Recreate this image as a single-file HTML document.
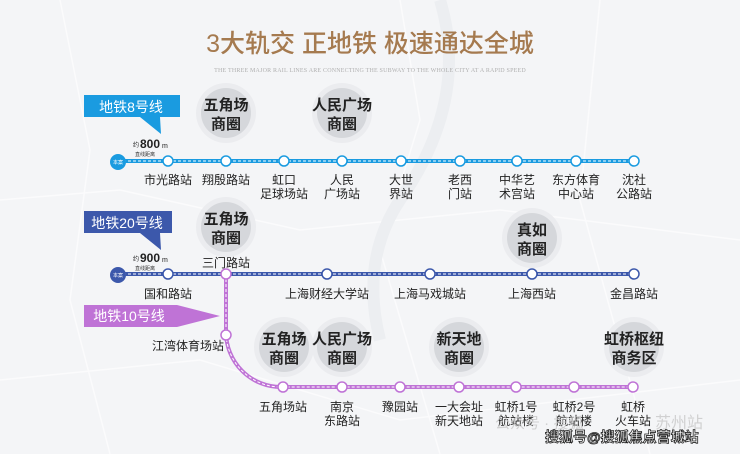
<!DOCTYPE html>
<html><head><meta charset="utf-8"><style>
html,body{margin:0;padding:0;background:#f4f5f7;}
svg{display:block;font-family:"Liberation Sans","Noto Sans CJK SC",sans-serif;}
</style></head><body>
<svg width="740" height="454" viewBox="0 0 740 454" xmlns="http://www.w3.org/2000/svg">
<defs>
<g id="bub"><circle r="30" fill="#ebecef"/><circle r="25" fill="#d5d7db"/></g>
</defs>
<rect width="740" height="454" fill="#f4f5f7"/>
<g stroke="#fbfbfc" stroke-width="1.5" fill="none">
<path d="M0 200 L120 190 L300 230 L500 210 L740 240"/>
<path d="M60 0 L90 150 L70 300 L110 454"/>
<path d="M400 0 L420 120 L380 250 L440 454"/>
<path d="M600 0 L580 200 L650 454"/>
<path d="M0 380 L200 360 L400 420 L740 380"/>
</g>
<path d="M440 0 Q470 100 400 200 Q360 260 380 340" stroke="#eceef1" stroke-width="12" fill="none"/>

<text x="370" y="52" text-anchor="middle" font-size="25" fill="#a57a4f" font-weight="500">3大轨交 正地铁 极速通达全城</text>
<text x="370" y="72" text-anchor="middle" font-size="6" fill="#b0b0b0" font-family="Liberation Serif,serif" letter-spacing="0.2">THE THREE MAJOR RAIL LINES ARE CONNECTING THE SUBWAY TO THE WHOLE CITY AT A RAPID SPEED</text>

<g font-size="15" font-weight="bold" fill="#222" text-anchor="middle">
<use href="#bub" x="226" y="113"/><text x="226" y="110">五角场</text><text x="226" y="129">商圈</text>
<use href="#bub" x="342" y="113"/><text x="342" y="110">人民广场</text><text x="342" y="129">商圈</text>
<use href="#bub" x="226" y="227"/><text x="226" y="224">五角场</text><text x="226" y="243">商圈</text>
<use href="#bub" x="532" y="238"/><text x="532" y="235">真如</text><text x="532" y="254">商圈</text>
<use href="#bub" x="284" y="347"/><text x="284" y="344">五角场</text><text x="284" y="363">商圈</text>
<use href="#bub" x="342" y="347"/><text x="342" y="344">人民广场</text><text x="342" y="363">商圈</text>
<use href="#bub" x="459" y="347"/><text x="459" y="344">新天地</text><text x="459" y="363">商圈</text>
<use href="#bub" x="634" y="347"/><text x="634" y="344">虹桥枢纽</text><text x="634" y="363">商务区</text>
</g>

<path d="M84 95 H180 V117 H160 L161 134 L140 117 H84 Z" fill="#1a9be0"/>
<text x="131" y="112" text-anchor="middle" font-size="14" fill="#fff">地铁8号线</text>
<text x="133" y="147" font-size="6" fill="#222">约</text><text x="140" y="148" font-size="12" font-weight="bold" fill="#222">800</text><text x="162" y="148" font-size="7" fill="#222">m</text>
<text x="135" y="156" font-size="5" fill="#333">直线距离</text>
<line x1="118" y1="161" x2="634" y2="161" stroke="#1a9be0" stroke-width="4"/>
<line x1="118" y1="161" x2="634" y2="161" stroke="#fff" stroke-width="1" stroke-dasharray="3 2"/>
<circle cx="118" cy="162" r="8" fill="#1a9be0"/><text x="118" y="164" font-size="5" fill="#fff" text-anchor="middle">本案</text>
<g fill="#fff" stroke="#1a9be0" stroke-width="1.5">
<circle cx="168" cy="161" r="5"/><circle cx="226" cy="161" r="5"/><circle cx="284" cy="161" r="5"/><circle cx="342" cy="161" r="5"/><circle cx="401" cy="161" r="5"/><circle cx="460" cy="161" r="5"/><circle cx="517" cy="161" r="5"/><circle cx="576" cy="161" r="5"/><circle cx="634" cy="161" r="5"/>
</g>
<g font-size="12" fill="#222" text-anchor="middle">
<text x="168" y="184">市光路站</text><text x="226" y="184">翔殷路站</text>
<text x="284" y="184">虹口</text><text x="284" y="198">足球场站</text>
<text x="342" y="184">人民</text><text x="342" y="198">广场站</text>
<text x="401" y="184">大世</text><text x="401" y="198">界站</text>
<text x="460" y="184">老西</text><text x="460" y="198">门站</text>
<text x="517" y="184">中华艺</text><text x="517" y="198">术宫站</text>
<text x="576" y="184">东方体育</text><text x="576" y="198">中心站</text>
<text x="634" y="184">沈社</text><text x="634" y="198">公路站</text>
</g>

<path d="M84 211 H172 V233 H160 L161 250 L140 233 H84 Z" fill="#3c58ab"/>
<text x="127" y="228" text-anchor="middle" font-size="14" fill="#fff">地铁20号线</text>
<text x="133" y="261" font-size="6" fill="#222">约</text><text x="140" y="262" font-size="12" font-weight="bold" fill="#222">900</text><text x="162" y="262" font-size="7" fill="#222">m</text>
<text x="135" y="270" font-size="5" fill="#333">直线距离</text>
<line x1="118" y1="274" x2="634" y2="274" stroke="#3c58ab" stroke-width="4"/>
<line x1="118" y1="274" x2="634" y2="274" stroke="#fff" stroke-width="1" stroke-dasharray="3 2"/>

<path d="M84 305 H177 L220 316 L177 327 H84 Z" fill="#bf73d6"/>
<text x="129" y="321" text-anchor="middle" font-size="14" fill="#fff">地铁10号线</text>
<path d="M226 274 V332 A55 55 0 0 0 281 387 H634" stroke="#bf73d6" stroke-width="4" fill="none"/>
<path d="M226 274 V332 A55 55 0 0 0 281 387 H634" stroke="#fff" stroke-width="1" stroke-dasharray="3 2" fill="none"/>

<circle cx="118" cy="275" r="8" fill="#3c58ab"/><text x="118" y="277" font-size="5" fill="#fff" text-anchor="middle">本案</text>
<g fill="#fff" stroke="#3c58ab" stroke-width="1.5">
<circle cx="168" cy="274" r="5"/><circle cx="327" cy="274" r="5"/><circle cx="430" cy="274" r="5"/><circle cx="532" cy="274" r="5"/><circle cx="634" cy="274" r="5"/>
</g>
<g fill="#fff" stroke="#bf73d6" stroke-width="1.5">
<circle cx="226" cy="274" r="5"/><circle cx="226" cy="335" r="5"/>
<circle cx="283" cy="387" r="5"/><circle cx="342" cy="387" r="5"/><circle cx="400" cy="387" r="5"/><circle cx="459" cy="387" r="5"/><circle cx="516" cy="387" r="5"/><circle cx="574" cy="387" r="5"/><circle cx="633" cy="387" r="5"/>
</g>
<g font-size="12" fill="#222" text-anchor="middle">
<text x="168" y="298">国和路站</text><text x="226" y="267">三门路站</text>
<text x="327" y="298">上海财经大学站</text><text x="430" y="298">上海马戏城站</text>
<text x="532" y="298">上海西站</text><text x="634" y="298">金昌路站</text>
<text x="188" y="350">江湾体育场站</text>
<text x="283" y="411">五角场站</text>
<text x="342" y="411">南京</text><text x="342" y="425">东路站</text>
<text x="400" y="411">豫园站</text>
<text x="459" y="411">一大会址</text><text x="459" y="425">新天地站</text>
<text x="516" y="411">虹桥1号</text><text x="516" y="425">航站楼</text>
<text x="574" y="411">虹桥2号</text><text x="574" y="425">航站楼</text>
<text x="633" y="411">虹桥</text><text x="633" y="425">火车站</text>
</g>

<text x="495" y="428" font-size="15" fill="#c8c8c8" opacity="0.8">公众号 · 搜狐</text>
<text x="655" y="428" font-size="16" fill="#c8c8c8" opacity="0.8">苏州站</text>
<text x="545" y="442" font-size="14" fill="#fff" stroke="#222" stroke-width="0.8" font-weight="bold">搜狐号@搜狐焦点营城站</text>
</svg>
</body></html>
